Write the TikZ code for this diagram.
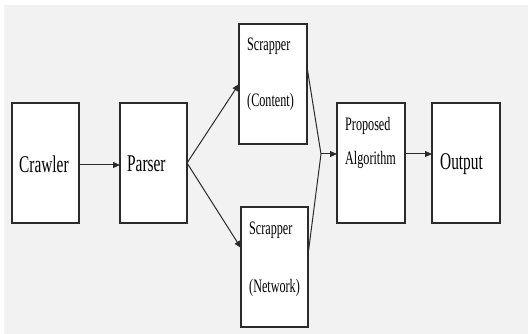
\documentclass[tikz,border=0pt]{standalone}
\usepackage{fontspec}
\setmainfont[FakeStretch=0.64]{Liberation Serif}
\usetikzlibrary{arrows.meta}
\definecolor{bgc}{HTML}{F2F2F2}
\definecolor{linec}{HTML}{2B2B2B}
\tikzset{
  box/.style={draw=linec, line width=1.2pt, fill=white, rectangle, inner sep=0pt, outer sep=0pt, minimum height=120pt},
  bigtxt/.style={anchor=west, inner sep=0pt, font=\fontsize{24}{26}\selectfont},
  smalltxt/.style={anchor=west, inner sep=0pt, font=\fontsize{19}{21}\selectfont},
  conn/.style={draw=linec, line width=1pt},
  arr/.style={conn, -{Triangle[length=7pt,width=6pt]}}
}
\begin{document}
\begin{tikzpicture}[x=1pt,y=-1pt]
\useasboundingbox (0,0) rectangle (528,334);
\fill[white] (0,0) rectangle (528,334);
\fill[bgc] (4,5) rectangle (528,334);
% boxes
\node[box, minimum width=67pt] (crawler) at (45.5,163) {};
\node[box, minimum width=67pt] (parser) at (153.5,163) {};
\node[box, minimum width=68pt] (content) at (273,84) {};
\node[box, minimum width=67pt] (network) at (274.5,267) {};
\node[box, minimum width=68pt] (algo) at (371,163) {};
\node[box, minimum width=68pt] (output) at (466,163) {};
% texts
\node[bigtxt] (tcrawler) at (19,164) {Crawler};
\node[bigtxt] (tparser) at (127,164) {Parser};
\node[smalltxt] (tscr1) at (247,46) {Scrapper};
\node[smalltxt] (tcont) at (247,102) {(Content)};
\node[smalltxt] (tscr2) at (249,230) {Scrapper};
\node[smalltxt] (tnet) at (249,288) {(Network)};
\node[smalltxt] (tprop) at (345,126) {Proposed};
\node[smalltxt] (talgo) at (345,160) {Algorithm};
\node[bigtxt] (toutput) at (440,164) {Output};
% connectors
\coordinate (merge) at (321,154);
\draw[arr] (crawler.east |- 0,165) -- (parser.west |- 0,165);
\draw[arr] (parser.east) -- (content.west |- 0,84);
\draw[arr] (parser.east) -- (network.west |- 0,248);
\draw[conn] (content.east |- 0,67) -- (merge);
\draw[conn] (network.east |- 0,255) -- (merge);
\draw[arr] (merge) -- (algo.west |- merge);
\draw[arr] (algo.east |- merge) -- (output.west |- merge);
\end{tikzpicture}
\end{document}
